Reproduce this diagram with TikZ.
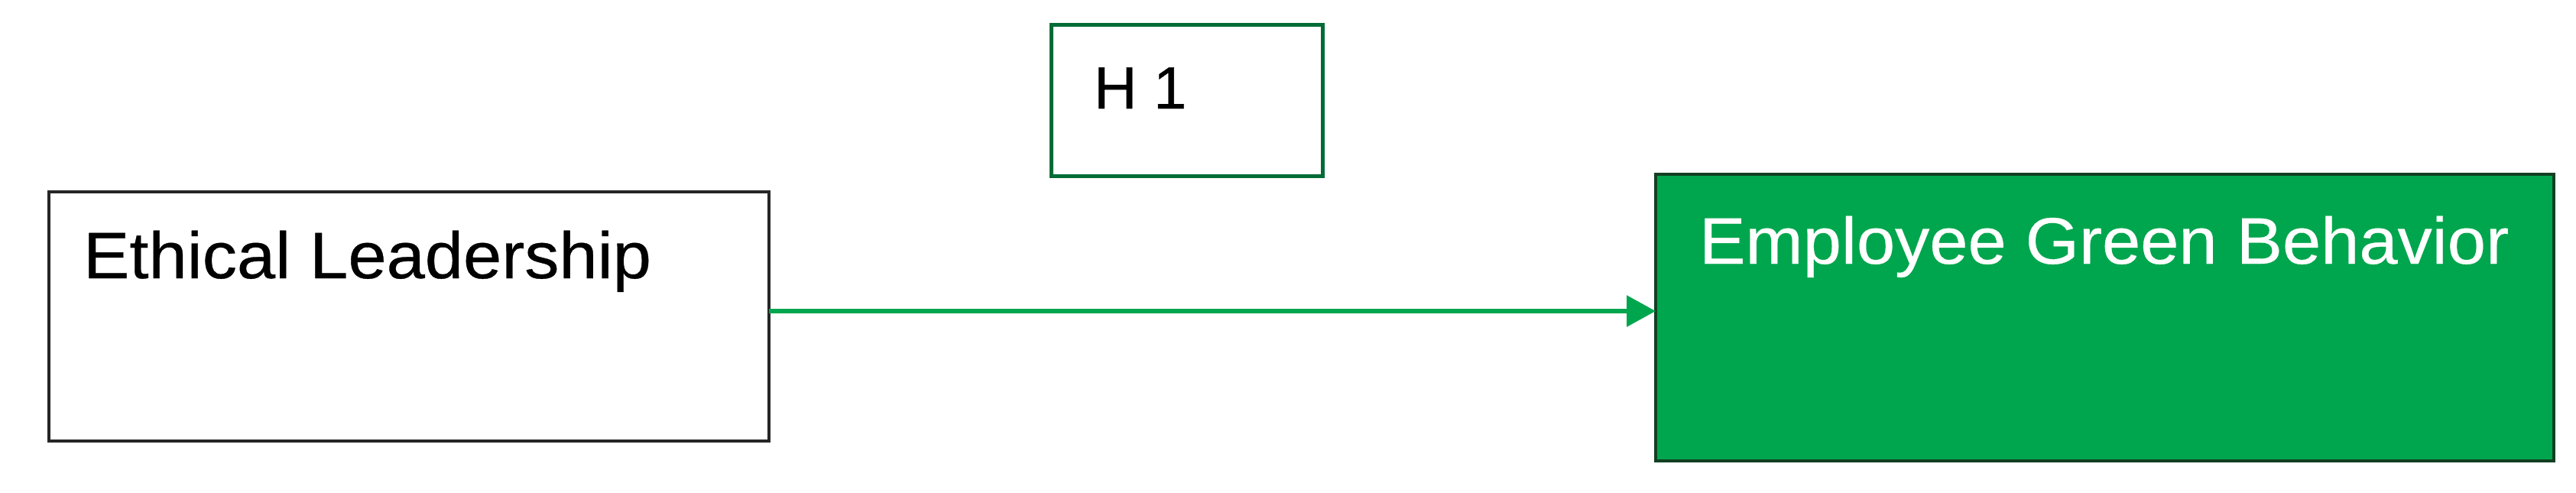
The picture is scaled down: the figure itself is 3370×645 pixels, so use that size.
\documentclass[tikz,border=0pt]{standalone}
\usepackage{fontspec}
\setmainfont{Liberation Sans}
\newfontfamily\boxfont[FakeStretch=1.05,FakeBold=0.4]{Liberation Sans}
\newfontfamily\hfont[FakeBold=0.4]{Liberation Sans}
\usetikzlibrary{arrows.meta}
\definecolor{fillgreen}{HTML}{00A64D}
\definecolor{darkrim}{HTML}{123F22}
\definecolor{hrim}{HTML}{006B37}
\tikzset{
  boxbase/.style={rectangle, anchor=north west, inner sep=0pt, outer sep=0pt},
  plainbox/.style={boxbase, draw=black!85, line width=3.5pt, fill=white},
  hbox/.style={boxbase, draw=hrim, line width=5pt, fill=white},
  greenbox/.style={boxbase, draw=darkrim, line width=4.5pt, fill=fillgreen},
  bigtext/.style={anchor=base west, inner sep=0pt, font=\boxfont\fontsize{86}{100}\selectfont},
  htext/.style={anchor=base west, inner sep=0pt, font=\hfont\fontsize{78}{90}\selectfont},
  link/.style={draw=fillgreen, line width=6pt, -{Triangle[length=38pt,width=40pt]}}
}
\begin{document}
\begin{tikzpicture}[x=1pt,y=-1pt]
\useasboundingbox (0,0) rectangle (3370,645);
\node[plainbox, minimum width=942pt, minimum height=326pt] (el) at (64,251) {};
\node[hbox, minimum width=355pt, minimum height=198pt] (h) at (1375,32) {};
\node[greenbox, minimum width=1175pt, minimum height=375pt] (egb) at (2166,228) {};
\node[bigtext] (elt) at (109,364) {Ethical Leadership};
\node[htext] (ht) at (1431,142) {H 1};
\node[bigtext, text=white] (egbt) at (2223,345) {Employee Green Behavior};
\draw[link] (el.east |- 0,407) -- (egb.west |- 0,407);
\end{tikzpicture}
\end{document}
